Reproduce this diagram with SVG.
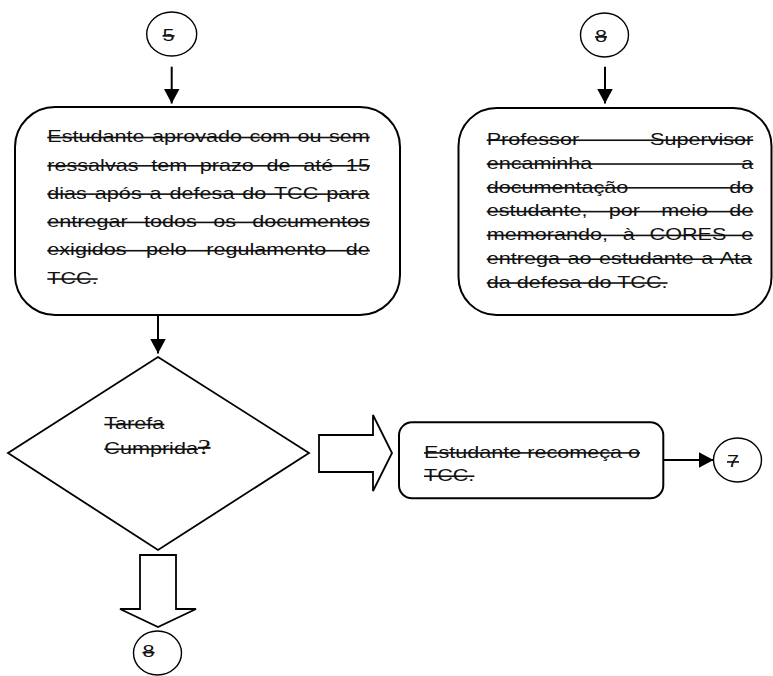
<svg xmlns="http://www.w3.org/2000/svg" width="773" height="676" viewBox="0 0 773 676">
<style>
.t{font-family:"Liberation Sans",Arial,sans-serif;font-size:16px;fill:#111;text-decoration:line-through}
.q{font-family:"Liberation Serif","Times New Roman",serif;font-size:21px}
.box{fill:#fff;stroke:#000;stroke-width:2}
.circ{fill:#fff;stroke:#000;stroke-width:1.4}
.conn{stroke:#000;stroke-width:2;fill:none}
.blk{fill:#fff;stroke:#000;stroke-width:1.8;stroke-linejoin:miter}
</style>
<defs>
<marker id="ah" viewBox="0 0 15 16" refX="15" refY="8" markerWidth="15" markerHeight="16" markerUnits="userSpaceOnUse" orient="auto">
<path d="M0,0 L15,8 L0,16 Z" fill="#000"/>
</marker>
</defs>

<g id="connectors">
<line class="conn" x1="171.7" y1="66.7" x2="171.7" y2="103.5" marker-end="url(#ah)"/>
<line class="conn" x1="605" y1="66.7" x2="605" y2="103.5" marker-end="url(#ah)"/>
<line class="conn" x1="158" y1="315" x2="158" y2="353.5" marker-end="url(#ah)"/>
<line class="conn" x1="663.5" y1="460" x2="713.5" y2="460" marker-end="url(#ah)"/>
<polygon id="arrow_right" class="blk" points="319,435 373,435 373,415 392,453 373,491 373,472 319,472"/>
<polygon id="arrow_down" class="blk" points="140,555 176,555 176,609 196,609 158,627 120,609 140,609"/>
</g>

<g id="c5">
<ellipse class="circ" cx="171.7" cy="34" rx="25" ry="22"/>
<text class="t" transform="translate(162.5,40.7) scale(1.35,1)" x="0" y="0">5</text>
</g>

<g id="c8top">
<ellipse class="circ" cx="604.5" cy="35" rx="24" ry="22"/>
<text class="t" transform="translate(595,41.7) scale(1.35,1)" x="0" y="0">8</text>
</g>

<g id="box1">
<rect class="box" x="15" y="107" width="385" height="208" rx="40" ry="40"/>
<text class="t" transform="translate(47.3,0) scale(1.35,1)"><tspan x="0" y="142.3" style="word-spacing:1.05px">Estudante aprovado com ou sem</tspan><tspan x="0" y="170.6" style="word-spacing:4.94px">ressalvas tem prazo de até 15</tspan><tspan x="0" y="198.9" style="word-spacing:1.44px">dias após a defesa do TCC para</tspan><tspan x="0" y="227.2" style="word-spacing:7.63px">entregar todos os documentos</tspan><tspan x="0" y="255.5" style="word-spacing:10px">exigidos pelo regulamento de</tspan><tspan x="0" y="283.8">TCC.</tspan></text>
</g>

<g id="box8">
<rect class="box" x="458.5" y="108" width="313" height="207" rx="38" ry="38"/>
<text class="t" transform="translate(486.7,0) scale(1.35,1)"><tspan x="0" y="145" style="word-spacing:48.1px">Professor Supervisor</tspan><tspan x="0" y="168.8" style="word-spacing:105.9px">encaminha a</tspan><tspan x="0" y="192.6" style="word-spacing:70.3px">documentação do</tspan><tspan x="0" y="216.4" style="word-spacing:11.28px">estudante, por meio de</tspan><tspan x="0" y="240.2" style="word-spacing:6.55px">memorando, à CORES e</tspan><tspan x="0" y="264" style="word-spacing:1.12px">entrega ao estudante a Ata</tspan><tspan x="0" y="287.8">da defesa do TCC.</tspan></text>
</g>

<g id="decision">
<polygon class="blk" points="158,357 309,453 158,550 8,453"/>
<text class="t" transform="translate(104.3,0) scale(1.35,1)"><tspan x="0" y="429.3">Tarefa</tspan><tspan x="0" y="454">Cumprida<tspan class="q">?</tspan></tspan></text>
</g>

<g id="box_recomeca">
<rect class="box" x="399" y="422.3" width="264.3" height="76" rx="13" ry="13"/>
<text class="t" transform="translate(424,0) scale(1.35,1)"><tspan x="0" y="457.7">Estudante recomeça o</tspan><tspan x="0" y="481">TCC.</tspan></text>
</g>

<g id="c7">
<ellipse class="circ" cx="737.5" cy="460" rx="24" ry="22"/>
<text class="t" transform="translate(727,466.7) scale(1.35,1)" x="0" y="0">7</text>
</g>

<g id="c8bottom">
<ellipse class="circ" cx="157.5" cy="653" rx="24" ry="22"/>
<text class="t" transform="translate(142.5,657.3) scale(1.35,1)" x="0" y="0">8</text>
</g>
</svg>
